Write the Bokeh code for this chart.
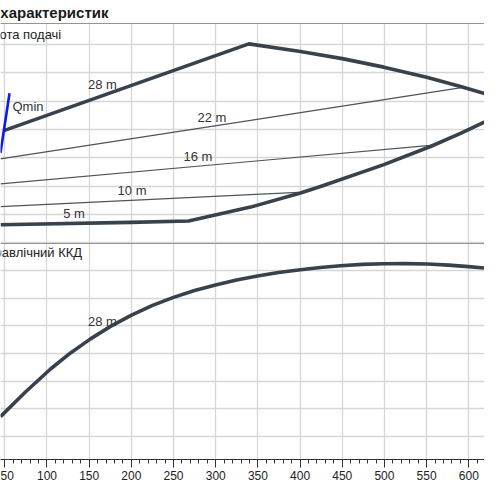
from bokeh.plotting import figure
from bokeh.models import Range1d, SingleIntervalTicker, Span
from bokeh.layouts import column
from bokeh.embed import file_html
from bokeh.resources import INLINE
from bokeh.core.properties import value

# ---------------- data ----------------
q_ticks_interval = 50

# Head panel (m) vs flow (m3/h)
q_max = [48.8, 339.2, 400.5, 450.0, 499.3, 550.0, 590.2, 637.6]
h_max = [19.8, 35.1, 33.75, 32.5, 31.0, 29.2, 27.6, 25.5]

q_min = [44.9, 199.0, 267.8, 341.3, 400.5, 424.2, 499.3, 554.6, 590.2, 637.6]
h_min = [3.2, 3.6, 3.85, 6.3, 8.8, 9.95, 13.8, 17.0, 19.3, 22.7]

q_22 = [44.9, 341.3, 591.4]
h_22 = [14.8, 21.6, 27.4]

q_16 = [44.9, 341.3, 554.6]
h_16 = [10.4, 14.35, 17.2]

q_10 = [44.9, 341.3, 398.2]
h_10 = [6.4, 8.5, 8.9]

q_qmin = [44.9, 55.6]
h_qmin = [15.9, 26.4]

head_labels = ["28 m", "22 m", "16 m", "10 m", "5 m"]
head_label_q = [165.8, 295.6, 279.0, 200.8, 132.0]
head_label_h = [27.9, 22.2, 15.3, 9.3, 5.2]

# Efficiency panel (%) vs flow
q_eff = [44.9, 74.5, 104.2, 127.9, 151.6, 175.3, 200.2, 225.1, 250.0, 274.9,
         299.8, 324.7, 349.5, 374.4, 400.5, 424.2, 447.9, 474.0, 498.9, 525.0,
         551.1, 576.0, 599.7, 618.6, 637.6]
eff = [17.2, 26.1, 34.4, 40.2, 45.3, 49.8, 53.9, 57.4, 60.3, 62.8,
       64.8, 66.6, 68.0, 69.25, 70.3, 71.1, 71.7, 72.2, 72.45, 72.5,
       72.35, 71.95, 71.4, 70.9, 70.2]

eff_labels = ["28 m"]
eff_label_q = [165.8]
eff_label_e = [51.75]

title_text = "Криві характеристик"
head_title = "Висота подачі"
eff_title = "Гідравлічний ККД"

# ---------------- style ----------------
FONT = "Liberation Sans"
CURVE = "#37424d"
THIN = "#4d545b"
GRID = "#d6d6d6"
TEXT = "#333333"

X_RANGE = (44.9, 618.6)


def base_fig(y_range, frame_h, extra):
    p = figure(frame_width=484, frame_height=frame_h,
               x_range=Range1d(*X_RANGE), y_range=Range1d(*y_range),
               output_backend="svg", toolbar_location=None,
               min_border_left=0, min_border_right=0,
               outline_line_color=None, title=None, **extra)
    p.xgrid.ticker = SingleIntervalTicker(interval=q_ticks_interval)
    p.xgrid.grid_line_color = GRID
    p.xgrid.grid_line_width = 1.3
    p.ygrid.grid_line_color = GRID
    p.ygrid.grid_line_width = 1.3
    return p


# ---------- title strip ----------
pt = figure(frame_width=484, frame_height=23,
            x_range=Range1d(*X_RANGE), y_range=Range1d(0, 23),
            output_backend="svg", toolbar_location=None,
            x_axis_location=None, y_axis_location=None,
            min_border=0, outline_line_color=None, title=None)
pt.xgrid.visible = False
pt.ygrid.visible = False
pt.text(x=[172.9], y=[11.5], text=[title_text],
        text_font=value(FONT), text_font_style="bold", text_font_size="15px",
        text_color="#1a1a1a", text_align="right", text_baseline="middle")

# ---------- top panel: head ----------
p1 = base_fig((-0.12, 38.70), 220, dict(x_axis_location=None, y_axis_location=None,
                                         min_border_top=0, min_border_bottom=0))
p1.ygrid.ticker = SingleIntervalTicker(interval=5)

p1.add_layout(Span(location=38.70, dimension="width", line_color="#2a2a2a", line_width=1.2))

for qs, hs in [(q_22, h_22), (q_16, h_16), (q_10, h_10)]:
    p1.line(qs, hs, line_color=THIN, line_width=1.2)

p1.line(q_max, h_max, line_color=CURVE, line_width=3.6, line_join="round")
p1.line(q_min, h_min, line_color=CURVE, line_width=3.6, line_join="round")
p1.line(q_qmin, h_qmin, line_color="#0a1ee6", line_width=2.6)

p1.text(x=head_label_q, y=head_label_h, text=head_labels,
        text_font=value(FONT), text_font_size="13px", text_color=TEXT,
        text_align="center", text_baseline="middle")
p1.text(x=[59.1], y=[24.1], text=["Qmin"],
        text_font=value(FONT), text_font_size="13px", text_color=TEXT,
        text_align="left", text_baseline="middle")
p1.text(x=[116.9], y=[36.76], text=[head_title],
        text_font=value(FONT), text_font_size="13px", text_color="#222222",
        text_align="right", text_baseline="middle")

# ---------- bottom panel: efficiency ----------
p2 = base_fig((1.70, 79.76), 216, dict(y_axis_location=None,
                                        min_border_top=0, min_border_bottom=0))
p2.ygrid.ticker = SingleIntervalTicker(interval=10)
p2.xaxis.ticker = SingleIntervalTicker(interval=q_ticks_interval, num_minor_ticks=5)
p2.xaxis.axis_line_color = "#333333"
p2.xaxis.major_tick_line_color = "#333333"
p2.xaxis.minor_tick_line_color = "#333333"
p2.xaxis.major_tick_out = 8
p2.xaxis.major_tick_in = 0
p2.xaxis.minor_tick_out = 4
p2.xaxis.minor_tick_in = 0
p2.xaxis.major_label_standoff = 3
p2.xaxis.major_label_text_font = FONT
p2.xaxis.major_label_text_font_size = "12px"
p2.xaxis.major_label_text_color = "#222222"

p2.add_layout(Span(location=79.76, dimension="width", line_color="#2a2a2a", line_width=1.2))

p2.line(q_eff, eff, line_color=CURVE, line_width=3.6, line_join="round")
p2.text(x=eff_label_q, y=eff_label_e, text=eff_labels,
        text_font=value(FONT), text_font_size="13px", text_color=TEXT,
        text_align="center", text_baseline="middle")
p2.text(x=[141.7], y=[76.33], text=[eff_title],
        text_font=value(FONT), text_font_size="13px", text_color="#222222",
        text_align="right", text_baseline="middle")

layout = column(pt, p1, p2, spacing=0)

with open("out.html", "w") as f:
    f.write(file_html(layout, INLINE))
